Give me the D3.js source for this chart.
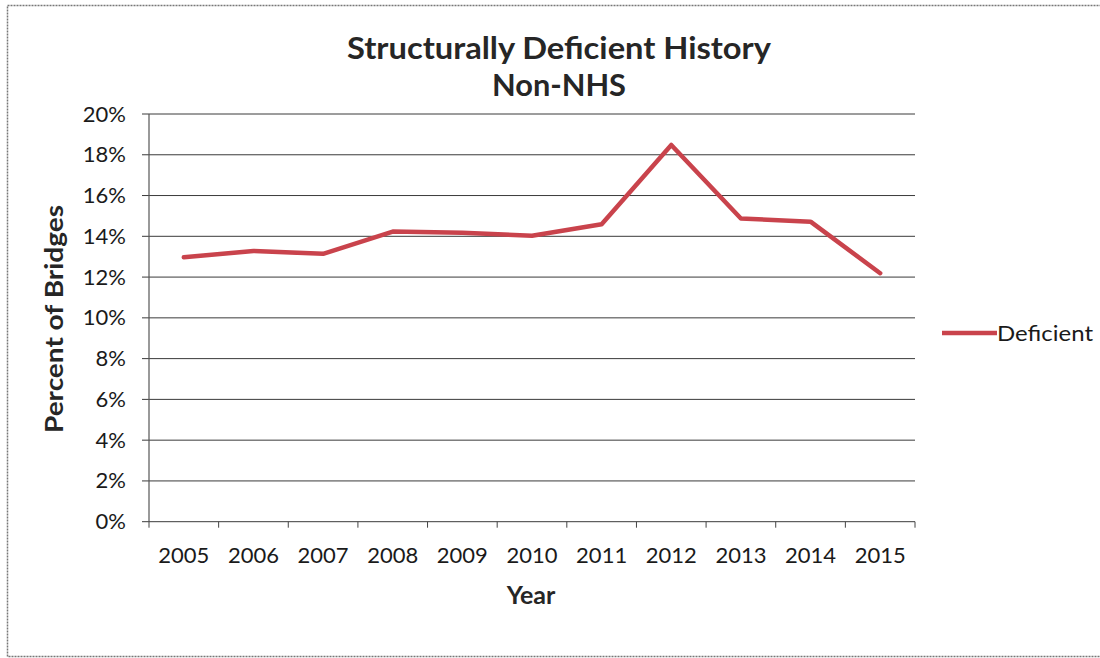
<!DOCTYPE html>
<html>
<head>
<meta charset="utf-8">
<script src="https://cdn.jsdelivr.net/npm/d3@7"></script>
<style>
  body { margin: 0; background: #fff; }
  svg { display: block; font-family: Lato, "Open Sans", sans-serif; }
  .grid line { stroke: #3a3a3a; stroke-width: 1; }
  .tick-label { fill: #1a1a1a; font-size: 22px; }
</style>
</head>
<body>
<div id="chart"></div>
<script>
const years = ["2005", "2006", "2007", "2008", "2009", "2010", "2011", "2012", "2013", "2014", "2015"];
const deficient = [0.1297, 0.1328, 0.1314, 0.1423, 0.1418, 0.1403, 0.1459, 0.1848, 0.1487, 0.1472, 0.1219];
const yTicks = [0, 0.02, 0.04, 0.06, 0.08, 0.1, 0.12, 0.14, 0.16, 0.18, 0.2];
const seriesName = "Deficient";

const W = 1100, H = 658;
const plot = { left: 149, right: 915, top: 114, bottom: 521.7 };

const svg = d3
  .select("#chart")
  .append("svg")
  .attr("width", W)
  .attr("height", H);

// dotted frame round the scanned chart
svg
  .append("rect")
  .attr("x", 7.5)
  .attr("y", 5.5)
  .attr("width", W + 10)
  .attr("height", 651)
  .attr("fill", "none")
  .attr("stroke", "#777")
  .attr("stroke-width", 1.5)
  .attr("stroke-dasharray", "2,1");

const x = d3.scaleBand().domain(years).range([plot.left, plot.right]);
const y = d3.scaleLinear().domain([0, 0.2]).range([plot.bottom, plot.top]);

// gridlines + y tick marks
const grid = svg.append("g").attr("class", "grid");
grid
  .selectAll("line")
  .data(yTicks)
  .enter()
  .append("line")
  .attr("x1", plot.left - 7)
  .attr("x2", plot.right)
  .attr("y1", (d) => y(d))
  .attr("y2", (d) => y(d));

// y axis line
svg
  .append("line")
  .attr("x1", plot.left)
  .attr("x2", plot.left)
  .attr("y1", plot.top)
  .attr("y2", plot.bottom)
  .attr("stroke", "#555")
  .attr("stroke-width", 1.2);

// x tick marks at band edges
const edges = years.map((d) => x(d)).concat([plot.right]);
svg
  .append("g")
  .selectAll("line")
  .data(edges)
  .enter()
  .append("line")
  .attr("x1", (d) => d)
  .attr("x2", (d) => d)
  .attr("y1", plot.bottom)
  .attr("y2", plot.bottom + 6)
  .attr("stroke", "#444")
  .attr("stroke-width", 1);

// y tick labels
svg
  .append("g")
  .selectAll("text")
  .data(yTicks)
  .enter()
  .append("text")
  .attr("class", "tick-label")
  .attr("x", 126)
  .attr("y", (d) => y(d) + 7.5)
  .attr("text-anchor", "end")
  .text((d) => d3.format(".0%")(d));

// x tick labels
svg
  .append("g")
  .selectAll("text")
  .data(years)
  .enter()
  .append("text")
  .attr("class", "tick-label")
  .attr("x", (d) => x(d) + x.bandwidth() / 2)
  .attr("y", 563)
  .attr("text-anchor", "middle")
  .text((d) => d);

// the series
const line = d3
  .line()
  .x((d, i) => x(years[i]) + x.bandwidth() / 2)
  .y((d) => y(d));

svg
  .append("path")
  .datum(deficient)
  .attr("d", line)
  .attr("fill", "none")
  .attr("stroke", "#c9434c")
  .attr("stroke-width", 4.5)
  .attr("stroke-linejoin", "round")
  .attr("stroke-linecap", "round");

// titles
svg
  .append("text")
  .attr("x", 559)
  .attr("y", 59)
  .attr("text-anchor", "middle")
  .attr("font-size", 30)
  .attr("font-weight", "bold")
  .attr("fill", "#262626")
  .attr("textLength", 424)
  .attr("lengthAdjust", "spacingAndGlyphs")
  .text("Structurally Deficient History");

svg
  .append("text")
  .attr("x", 559)
  .attr("y", 96)
  .attr("text-anchor", "middle")
  .attr("font-size", 30)
  .attr("font-weight", "bold")
  .attr("fill", "#262626")
  .attr("textLength", 134)
  .attr("lengthAdjust", "spacingAndGlyphs")
  .text("Non-NHS");

svg
  .append("text")
  .attr("x", 531)
  .attr("y", 604)
  .attr("text-anchor", "middle")
  .attr("font-size", 25)
  .attr("font-weight", "bold")
  .attr("fill", "#262626")
  .text("Year");

svg
  .append("text")
  .attr("transform", "translate(63,319) rotate(-90)")
  .attr("text-anchor", "middle")
  .attr("font-size", 25)
  .attr("font-weight", "bold")
  .attr("fill", "#262626")
  .attr("textLength", 228)
  .attr("lengthAdjust", "spacingAndGlyphs")
  .text("Percent of Bridges");

// legend
const legend = svg.append("g").attr("transform", "translate(942,333)");
legend
  .append("line")
  .attr("x1", 0)
  .attr("x2", 55)
  .attr("y1", 0)
  .attr("y2", 0)
  .attr("stroke", "#c9434c")
  .attr("stroke-width", 4.5);
legend
  .append("text")
  .attr("x", 55)
  .attr("y", 7.5)
  .attr("class", "tick-label")
  .attr("textLength", 96)
  .attr("lengthAdjust", "spacingAndGlyphs")
  .text(seriesName);
</script>
</body>
</html>
